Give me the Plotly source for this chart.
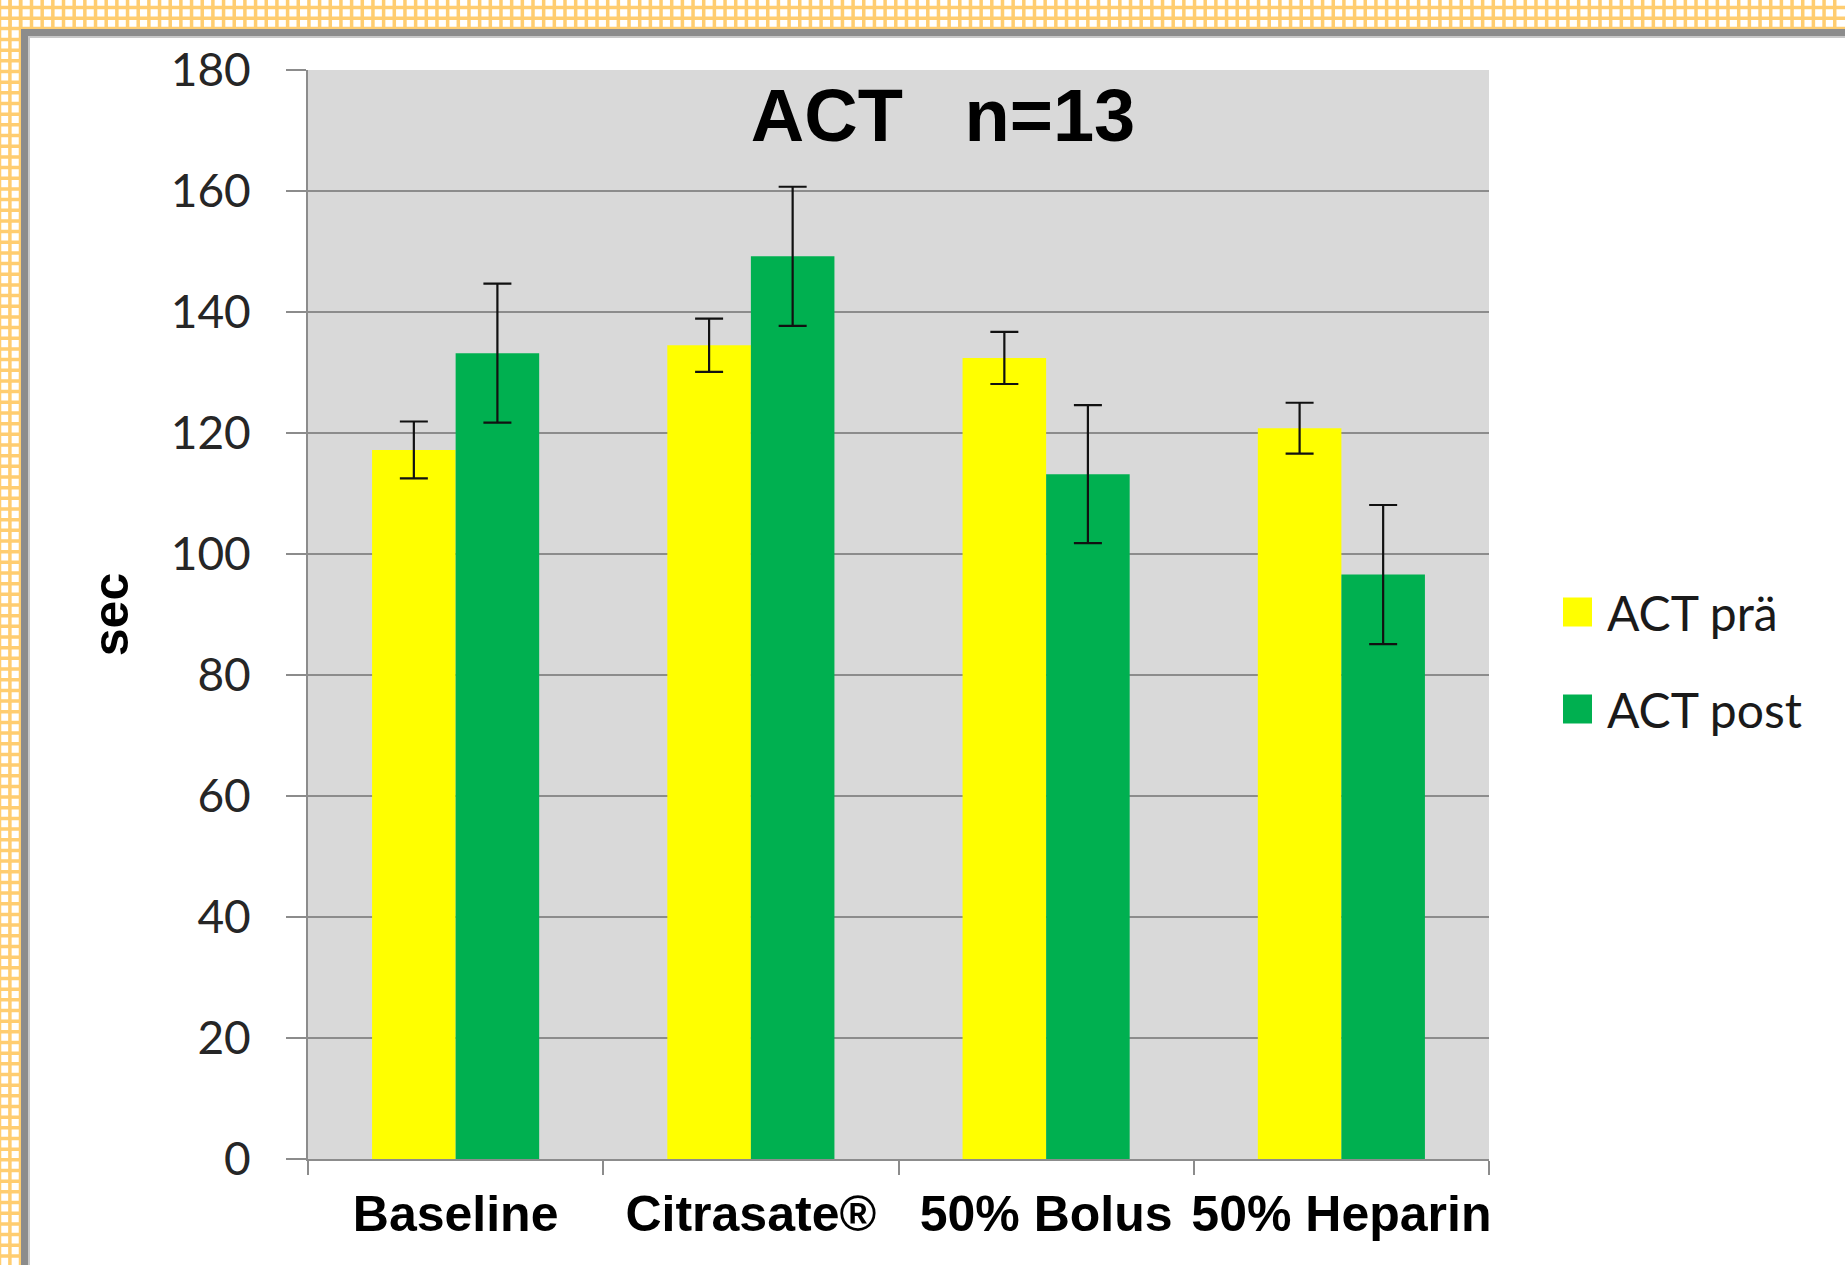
import plotly.graph_objects as go

# ---- data ----
categories = ["Baseline", "Citrasate®", "50% Bolus", "50% Heparin"]
series_names = ["ACT prä", "ACT post"]
act_pre = [117.2, 134.5, 132.4, 120.8]
act_pre_err = [4.7, 4.4, 4.3, 4.2]
act_post = [133.2, 149.2, 113.2, 96.6]
act_post_err = [11.5, 11.5, 11.4, 11.5]
y_ticks = [0, 20, 40, 60, 80, 100, 120, 140, 160, 180]
colors = ["#FFFF00", "#00B050"]

# ---- geometry (pixels) ----
FW, FH = 1845, 1265
L, R, T, B = 308, 1489, 70, 1159
W, H = R - L, B - T


def xp(px):
    return (px - L) / W


def yp(py):
    return (B - py) / H


fig = go.Figure()
for name, vals, errs, col in [
    (series_names[0], act_pre, act_pre_err, colors[0]),
    (series_names[1], act_post, act_post_err, colors[1]),
]:
    fig.add_trace(go.Bar(
        x=categories, y=vals, name=name,
        marker=dict(color=col, line=dict(width=0)),
        error_y=dict(type="data", array=errs, visible=True,
                     color="#111111", thickness=2.2, width=14),
        showlegend=False,
    ))

shapes = []

# decorative orange check border (top and left bands)
segs = []
period = 10.67
for y in [7.5, 18.2, 28.6]:
    segs.append(f"M{xp(0)},{yp(y)} L{xp(FW)},{yp(y)}")
k = 0
while True:
    x = -0.5 + k * period
    if x > FW:
        break
    segs.append(f"M{xp(x)},{yp(0)} L{xp(x)},{yp(29)}")
    k += 1
for x in [-0.5, 9.9, 20.5]:
    segs.append(f"M{xp(x)},{yp(0)} L{xp(x)},{yp(FH)}")
k = 0
while True:
    y = 7.5 + k * period
    if y > FH:
        break
    if y > 29:
        segs.append(f"M{xp(0)},{yp(y)} L{xp(21)},{yp(y)}")
    k += 1
shapes.append(dict(type="path", xref="paper", yref="paper", path=" ".join(segs),
                   line=dict(color="rgb(255,205,112)", width=3.5), layer="below"))

# gray frame
shapes.append(dict(type="rect", xref="paper", yref="paper",
                   x0=xp(21), x1=xp(FW), y0=yp(29), y1=yp(36),
                   fillcolor="#8C8C8C", line=dict(width=0), layer="below"))
shapes.append(dict(type="rect", xref="paper", yref="paper",
                   x0=xp(21), x1=xp(28), y0=yp(29), y1=yp(FH),
                   fillcolor="#8C8C8C", line=dict(width=0), layer="below"))
shapes.append(dict(type="rect", xref="paper", yref="paper",
                   x0=xp(28), x1=xp(FW), y0=yp(36), y1=yp(38),
                   fillcolor="#C8C8C8", line=dict(width=0), layer="below"))
shapes.append(dict(type="rect", xref="paper", yref="paper",
                   x0=xp(28), x1=xp(30), y0=yp(36), y1=yp(FH),
                   fillcolor="#C8C8C8", line=dict(width=0), layer="below"))

# manual legend
annotations = []
leg_y = [612, 709]
for i, name in enumerate(series_names):
    cy = leg_y[i]
    shapes.append(dict(type="rect", xref="paper", yref="paper",
                       x0=xp(1563), x1=xp(1592), y0=yp(cy - 14.5), y1=yp(cy + 14.5),
                       fillcolor=colors[i], line=dict(width=0)))
    annotations.append(dict(xref="paper", yref="paper", x=xp(1605), y=yp(cy),
                            xanchor="left", yanchor="middle", showarrow=False,
                            text=name, font=dict(family="Lato", size=48, color="#1a1a1a")))

fig.update_layout(
    width=FW, height=FH, autosize=False,
    margin=dict(l=L, r=FW - R, t=T, b=FH - B, pad=0),
    paper_bgcolor="white", plot_bgcolor="#D9D9D9",
    barmode="group", bargap=0.434, bargroupgap=0,
    title=dict(text="<b>ACT\u00a0\u00a0\u00a0n=13</b>", xref="paper", x=xp(943), xanchor="center",
               yref="container", y=1 - 115.5 / FH, yanchor="middle",
               font=dict(family="Liberation Sans", size=74, color="black")),
    shapes=shapes, annotations=annotations,
    showlegend=False,
)
fig.update_xaxes(
    type="category", showline=True, linecolor="#8C8C8C", linewidth=2,
    ticks="outside", tickson="boundaries", ticklen=14, tickwidth=2, tickcolor="#8C8C8C",
    tickfont=dict(family="Liberation Sans", size=50, color="black"),
    tickvals=categories, ticktext=[f"<b>{c}</b>" for c in categories],
    tickangle=0, automargin=False,
    showgrid=False, ticklabelstandoff=10,
)
fig.update_yaxes(
    range=[0, 180], tickvals=y_ticks, showline=True, linecolor="#8C8C8C", linewidth=2,
    ticks="outside", ticklen=20, tickwidth=2, tickcolor="#8C8C8C",
    tickfont=dict(family="Lato", size=46, color="#262626"),
    showgrid=True, gridcolor="#8C8C8C", gridwidth=2, zeroline=False,
    ticklabelstandoff=26, automargin=False,
    title=dict(text="<b>sec</b>", standoff=26,
               font=dict(family="Liberation Sans", size=50, color="black")),
)

fig.write_html("out.html", config={"displayModeBar": False},
               post_script="document.body.style.margin='0px';document.body.style.overflow='hidden';")
